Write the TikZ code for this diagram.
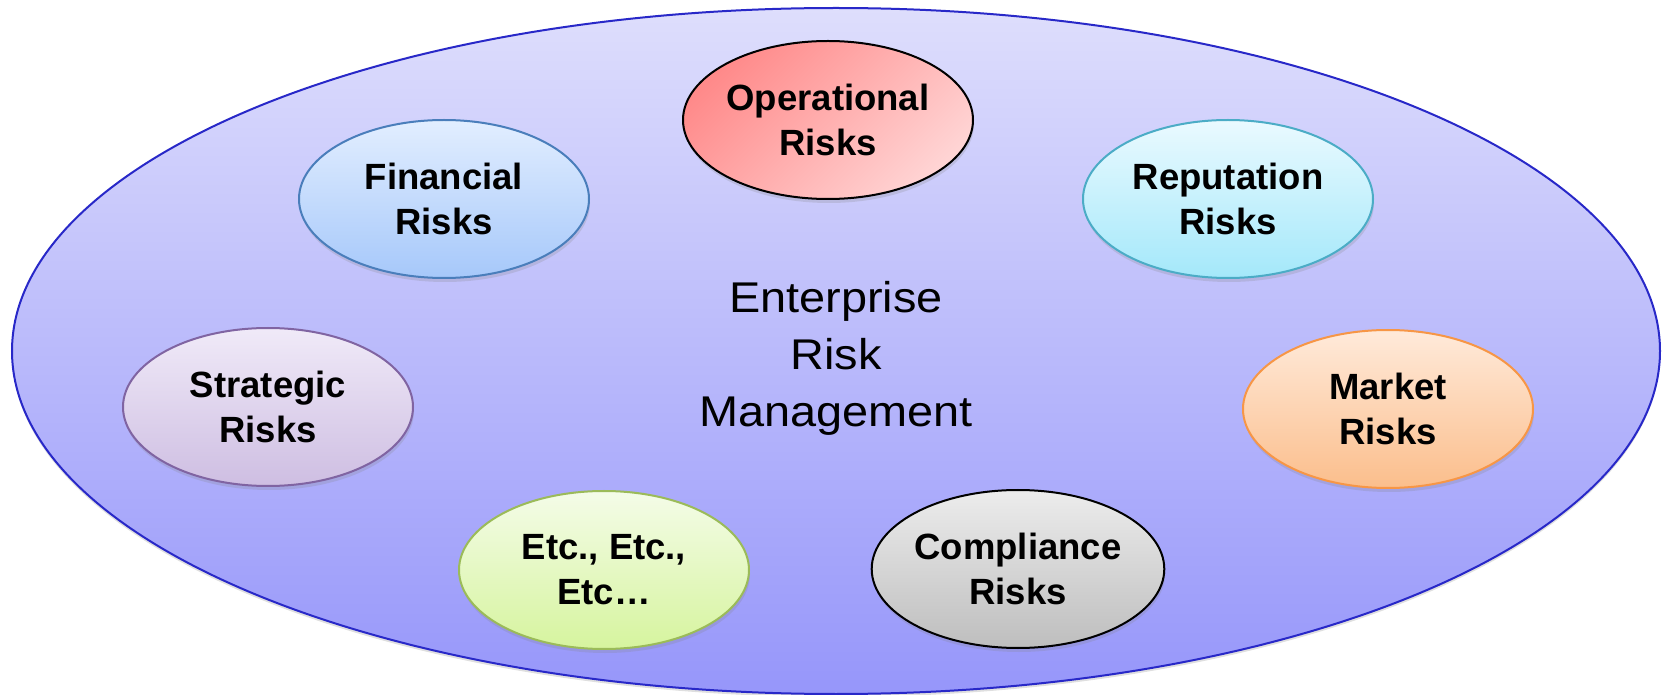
\documentclass[tikz,border=0pt]{standalone}
\usepackage{fontspec}
\setmainfont{Liberation Sans}
\newfontfamily\ermfont[FakeStretch=1.09]{Liberation Sans}
\usetikzlibrary{shapes.geometric,shadows}
\definecolor{outerTop}{RGB}{222,222,252}
\definecolor{outerBot}{RGB}{150,150,250}
\definecolor{outerLine}{RGB}{40,40,200}
\definecolor{opA}{RGB}{255,138,138}
\definecolor{opB}{RGB}{255,212,212}
\definecolor{finA}{RGB}{226,238,255}
\definecolor{finB}{RGB}{166,200,250}
\definecolor{finL}{RGB}{74,126,187}
\definecolor{repA}{RGB}{234,250,255}
\definecolor{repB}{RGB}{164,232,250}
\definecolor{repL}{RGB}{75,172,198}
\definecolor{strA}{RGB}{240,234,248}
\definecolor{strB}{RGB}{206,190,226}
\definecolor{strL}{RGB}{128,100,162}
\definecolor{mktA}{RGB}{255,234,218}
\definecolor{mktB}{RGB}{251,190,140}
\definecolor{mktL}{RGB}{247,150,70}
\definecolor{etcA}{RGB}{244,252,232}
\definecolor{etcB}{RGB}{214,244,158}
\definecolor{etcL}{RGB}{155,187,89}
\definecolor{cmpA}{RGB}{236,236,236}
\definecolor{cmpB}{RGB}{190,190,190}
\tikzset{
  outerbox/.style={ellipse, draw=outerLine, line width=1pt, top color=outerTop, bottom color=outerBot,
    minimum width=824pt, minimum height=343pt, inner sep=0pt,
    drop shadow={shadow xshift=0pt, shadow yshift=-1.5pt, opacity=0.25}},
  ermtext/.style={align=center, inner sep=0pt, font=\ermfont\fontsize{21.5pt}{28.5pt}\selectfont},
  riskbox/.style={ellipse, line width=1pt, minimum width=145pt, minimum height=79pt,
    inner sep=0pt, align=center, font=\bfseries\fontsize{18.25pt}{22.5pt}\selectfont,
    drop shadow={shadow xshift=0.5pt, shadow yshift=-2pt, opacity=0.22}},
}
\begin{document}
\begin{tikzpicture}[x=0.5pt,y=-0.5pt]
\useasboundingbox (0,0) rectangle (1667,695);
\node[outerbox] (erm) at (836,351) {};
\node[ermtext] (ermlabel) at (836,358) {Enterprise\\Risk\\Management};
\node[riskbox, draw=black, top color=opA, bottom color=opB, shading angle=45] (op) at (828,120) {Operational\\Risks};
\node[riskbox, draw=finL, top color=finA, bottom color=finB] (fin) at (444,199) {Financial\\Risks};
\node[riskbox, draw=repL, top color=repA, bottom color=repB] (rep) at (1228,199) {Reputation\\Risks};
\node[riskbox, draw=strL, top color=strA, bottom color=strB] (str) at (268,407) {Strategic\\Risks};
\node[riskbox, draw=mktL, top color=mktA, bottom color=mktB] (mkt) at (1388,409) {Market\\Risks};
\node[riskbox, draw=etcL, top color=etcA, bottom color=etcB] (etc) at (604,570) {Etc., Etc.,\\Etc…};
\node[riskbox, draw=black, top color=cmpA, bottom color=cmpB] (cmp) at (1018,569) {Compliance\\Risks};
\end{tikzpicture}
\end{document}
